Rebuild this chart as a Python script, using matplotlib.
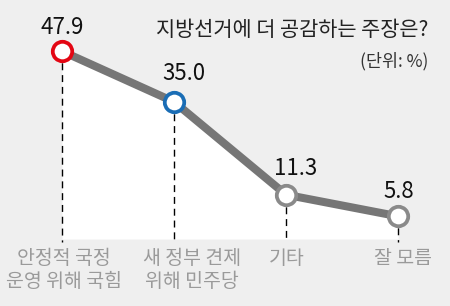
import matplotlib
matplotlib.use("Agg")
import matplotlib.pyplot as plt

plt.rcParams['font.family'] = ['Noto Sans CJK KR', 'DejaVu Sans']

categories = ["안정적 국정\n운영 위해 국힘", "새 정부 견제\n위해 민주당", "기타", "잘 모름"]
values = [47.9, 35.0, 11.3, 5.8]
value_labels = ["47.9", "35.0", "11.3", "5.8"]
title = "지방선거에 더 공감하는 주장은?"
unit = "(단위: %)"

edge_colors = ["#e30613", "#1a6db5", "#8a8a8a", "#8a8a8a"]
label_offsets = [(0, 12), (10, 17), (10, 15), (1, 13)]  # pixels
cat_offsets = [2, 18, 1, 5]  # pixels

W, H = 450, 306
fig = plt.figure(figsize=(W / 100, H / 100), dpi=100)
fig.patch.set_facecolor("#efefef")
ax = fig.add_axes([0, 0, 1, 1])
ax.set_facecolor("#efefef")
x = list(range(len(values)))
# pixel mapping: x0=62, dx=112 ; y0=239, 3.92 px per unit
ax.set_xlim(-62 / 112, (W - 62) / 112)
ax.set_ylim((239 - H) / 3.92, 239 / 3.92)
ax.axis("off")

ax.fill_between(x, values, 0, color="white", zorder=1, linewidth=0)
for xi, v in zip(x, values):
    ax.plot([xi, xi], [v, -0.8], color="black", lw=1.0, ls=(0, (5, 3.5)), zorder=2)
ax.plot(x, values, color="#767676", lw=5.8, zorder=3, solid_capstyle="butt")
for xi, v, ec in zip(x, values, edge_colors):
    ax.plot(xi, v, marker="o", ms=14, mfc="white", mec=ec, mew=2.7, zorder=4)

for xi, v, lab, off in zip(x, values, value_labels, label_offsets):
    ax.annotate(lab, (xi, v), xytext=off, textcoords="offset pixels",
                ha="center", va="bottom", fontsize=16, color="#111111",
                fontweight="medium")

for xi, cat, off in zip(x, categories, cat_offsets):
    ax.annotate(cat, (xi, 0), xytext=(off, -9), textcoords="offset pixels",
                ha="center", va="top", fontsize=14, color="#9a9a9a",
                linespacing=1.12)

fig.text(428 / W, 1 - 30 / H, title, ha="right", va="center", fontsize=15,
         color="#222222", fontweight="medium")
fig.text(428 / W, 1 - 61 / H, unit, ha="right", va="center", fontsize=12.5, color="#333333")

fig.savefig("out.png", dpi=100, facecolor=fig.get_facecolor())
